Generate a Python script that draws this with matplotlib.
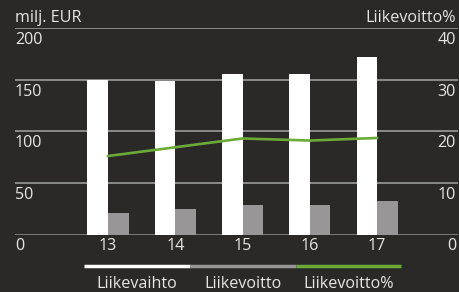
import matplotlib
matplotlib.use("Agg")
import matplotlib.pyplot as plt
from matplotlib.lines import Line2D
import numpy as np

years = ["13", "14", "15", "16", "17"]
liikevaihto = [150, 149, 155, 155, 172]
liikevoitto = [21, 25, 29, 29, 32]
liikevoitto_pct = [15.2, 16.9, 18.6, 18.2, 18.7]
left_ticks = [0, 50, 100, 150, 200]
right_ticks = [0, 10, 20, 30, 40]
legend_labels = ["Liikevaihto", "Liikevoitto", "Liikevoitto%"]

BG = "#2b2927"
TXT = "#e6e6e6"
GRID = "#9a9a9a"
WHITE = "#ffffff"
GRAY = "#989696"
GREEN = "#6aab38"

plt.rcParams["font.family"] = ["Open Sans", "DejaVu Sans"]

W, H = 459, 292
fig = plt.figure(figsize=(W / 100, H / 100), dpi=100, facecolor=BG)

x0, x1 = 15, 458
y0, y1 = 234.5, 28
ax = fig.add_axes([x0 / W, (H - y0) / H, (x1 - x0) / W, (y0 - y1) / H])
ax.set_facecolor(BG)
for s in ax.spines.values():
    s.set_visible(False)
ax.set_xticks([])
ax.set_yticks([])

x = np.arange(len(years))
bw = 0.305
ax.set_xlim(-1.383, 5.204)
ax.set_ylim(0, 200)

for v in left_ticks[1:]:
    ax.axhline(v, color=GRID, lw=1.2, zorder=1)
ax.axhline(0, color="#777777", lw=2.2, zorder=1)

ax.bar(x - bw / 2, liikevaihto, width=bw, color=WHITE, zorder=2)
ax.bar(x + bw / 2, liikevoitto, width=bw, color=GRAY, zorder=2)

ax2 = ax.twinx()
ax2.set_ylim(0, 40)
ax2.set_yticks([])
for s in ax2.spines.values():
    s.set_visible(False)
ax2.plot(x, liikevoitto_pct, color=GREEN, lw=1.9, zorder=3)

fs = 11.6
# y labels under each gridline
for lv, rv in zip(left_ticks, right_ticks):
    yp = (y0 - lv / 200 * (y0 - y1)) + 4
    fig.text(15 / W, 1 - yp / H, str(lv), color=TXT, fontsize=fs, ha="left", va="top")
    fig.text(456 / W, 1 - yp / H, str(rv), color=TXT, fontsize=fs, ha="right", va="top")

fig.text(15 / W, 1 - 26 / H, "milj. EUR", color=TXT, fontsize=fs, ha="left", va="bottom")
fig.text(456 / W, 1 - 26 / H, "Liikevoitto%", color=TXT, fontsize=fs, ha="right", va="bottom")

xt = ax.get_xaxis_transform()
for xi, yr in zip(x, years):
    ax.text(xi, -4 / (y0 - y1), yr, color=TXT, fontsize=fs, ha="center", va="top",
            transform=xt, clip_on=False)

# legend
leg_y = 1 - 265.7 / H
segs = [(84, 190, WHITE), (190, 296, GRAY), (296, 401, GREEN)]
for (a, b, c), lab in zip(segs, legend_labels):
    fig.add_artist(Line2D([a / W, b / W], [leg_y, leg_y], color=c, lw=2.5,
                          solid_capstyle="butt", transform=fig.transFigure))
    fig.text((a + b) / 2 / W, 1 - 288.5 / H, lab, color=TXT, fontsize=fs,
             ha="center", va="baseline")

fig.savefig("out.png", dpi=100, facecolor=BG)
